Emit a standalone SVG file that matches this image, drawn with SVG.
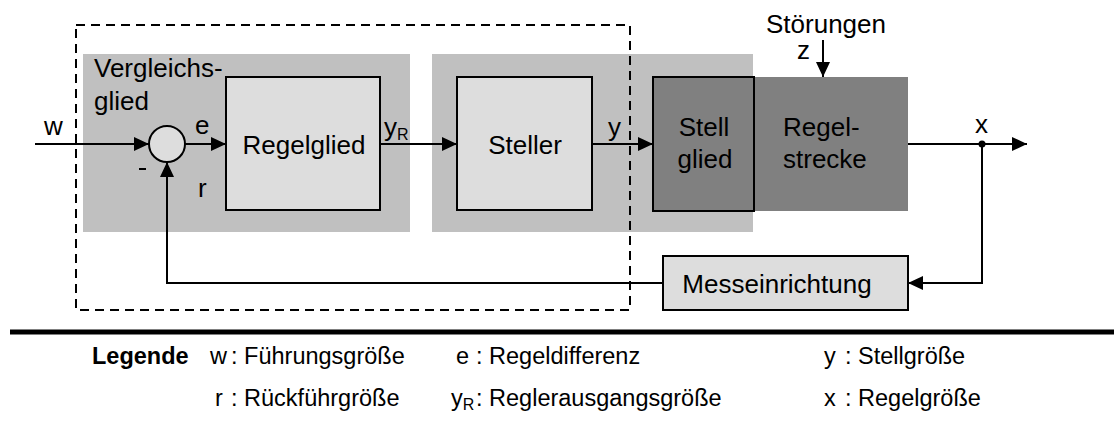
<svg xmlns="http://www.w3.org/2000/svg" width="1114" height="423" viewBox="0 0 1114 423">
  <style>
    .t { font-family: "Liberation Sans", Arial, sans-serif; font-size: 26px; fill: #000; }
    .lg { font-family: "Liberation Sans", Arial, sans-serif; font-size: 23.5px; fill: #000; }
    .sub { font-size: 16px; }
    .zone { fill: #c0c0c0; }
    .block { fill: #dddddd; stroke: #000; stroke-width: 2; }
    .plant { fill: #808080; stroke: #000; stroke-width: 2; }
    .wire { fill: none; stroke: #000; stroke-width: 2; }
  </style>
  <defs>
    <marker id="arrow" viewBox="0 0 15 14" refX="15" refY="7" markerWidth="15" markerHeight="14" markerUnits="userSpaceOnUse" orient="auto">
      <path d="M0,0 L15,7 L0,14 Z" fill="#000"/>
    </marker>
  </defs>

  <rect width="1114" height="423" fill="#fff"/>

  <!-- shaded zones: comparator/controller and actuator -->
  <rect class="zone" x="83" y="54" width="327" height="178"/>
  <rect class="zone" x="432" y="54" width="321" height="178"/>

  <!-- controller boundary -->
  <rect x="76" y="25" width="554" height="285" fill="none" stroke="#000" stroke-width="2" stroke-dasharray="9,6"/>

  <g id="vergleichsglied">
    <circle cx="167" cy="144" r="18" class="block"/>
    <text class="t" x="94" y="77">Vergleichs-</text>
    <text class="t" x="94" y="110">glied</text>
  </g>

  <g id="regelglied">
    <rect class="block" x="226" y="77" width="154" height="133"/>
    <text class="t" x="304" y="154" text-anchor="middle">Regelglied</text>
  </g>

  <g id="steller">
    <rect class="block" x="457" y="77" width="135" height="133"/>
    <text class="t" x="525" y="154" text-anchor="middle">Steller</text>
  </g>

  <g id="regelstrecke">
    <rect x="754" y="77" width="154" height="134" fill="#808080"/>
    <text class="t" x="783" y="136">Regel-</text>
    <text class="t" x="783" y="168">strecke</text>
  </g>

  <g id="stellglied">
    <rect class="plant" x="653" y="77" width="101" height="134"/>
    <text class="t" x="704" y="136" text-anchor="middle">Stell</text>
    <text class="t" x="705" y="168" text-anchor="middle">glied</text>
  </g>

  <g id="messeinrichtung">
    <rect class="block" x="663" y="256" width="245" height="54"/>
    <text class="t" x="777" y="293" text-anchor="middle">Messeinrichtung</text>
  </g>

  <g id="connectors">
    <line class="wire" x1="35" y1="144" x2="149" y2="144" marker-end="url(#arrow)"/>
    <line class="wire" x1="185" y1="144" x2="226" y2="144" marker-end="url(#arrow)"/>
    <line class="wire" x1="380" y1="144" x2="457" y2="144" marker-end="url(#arrow)"/>
    <line class="wire" x1="592" y1="144" x2="653" y2="144" marker-end="url(#arrow)"/>
    <line class="wire" x1="908" y1="144" x2="1027" y2="144" marker-end="url(#arrow)"/>
    <polyline class="wire" points="982,144 982,283 908,283" marker-end="url(#arrow)"/>
    <polyline class="wire" points="663,283 167,283 167,162" marker-end="url(#arrow)"/>
    <line class="wire" x1="823" y1="40" x2="823" y2="77" marker-end="url(#arrow)"/>
    <circle cx="982" cy="144" r="3.5" fill="#000"/>
  </g>

  <g id="signal-labels">
    <text class="t" x="44" y="135">w</text>
    <text class="t" x="195" y="134">e</text>
    <line x1="139" y1="169" x2="146" y2="169" stroke="#000" stroke-width="2"/>
    <text class="t" x="198" y="197">r</text>
    <text class="t" x="384" y="136">y<tspan class="sub" dy="4">R</tspan></text>
    <text class="t" x="608" y="136">y</text>
    <text class="t" x="975" y="133">x</text>
    <text class="t" x="826" y="33" text-anchor="middle">Störungen</text>
    <text class="t" x="797" y="59">z</text>
  </g>

  <!-- legend -->
  <line x1="10" y1="332" x2="1114" y2="332" stroke="#000" stroke-width="5"/>
  <g id="legende">
    <text class="lg" x="92" y="364" font-weight="bold" font-size="22">Legende</text>
    <text class="lg" x="210" y="364">w</text>
    <text class="lg" x="231" y="364">: Führungsgröße</text>
    <text class="lg" x="456" y="364">e</text>
    <text class="lg" x="476" y="364">: Regeldifferenz</text>
    <text class="lg" x="824" y="364">y</text>
    <text class="lg" x="845" y="364">: Stellgröße</text>
    <text class="lg" x="215" y="406">r</text>
    <text class="lg" x="231" y="406">: Rückführgröße</text>
    <text class="lg" x="451" y="406">y<tspan class="sub" dy="4">R</tspan></text>
    <text class="lg" x="476" y="406">: Reglerausgangsgröße</text>
    <text class="lg" x="824" y="406">x</text>
    <text class="lg" x="845" y="406">: Regelgröße</text>
  </g>
</svg>
